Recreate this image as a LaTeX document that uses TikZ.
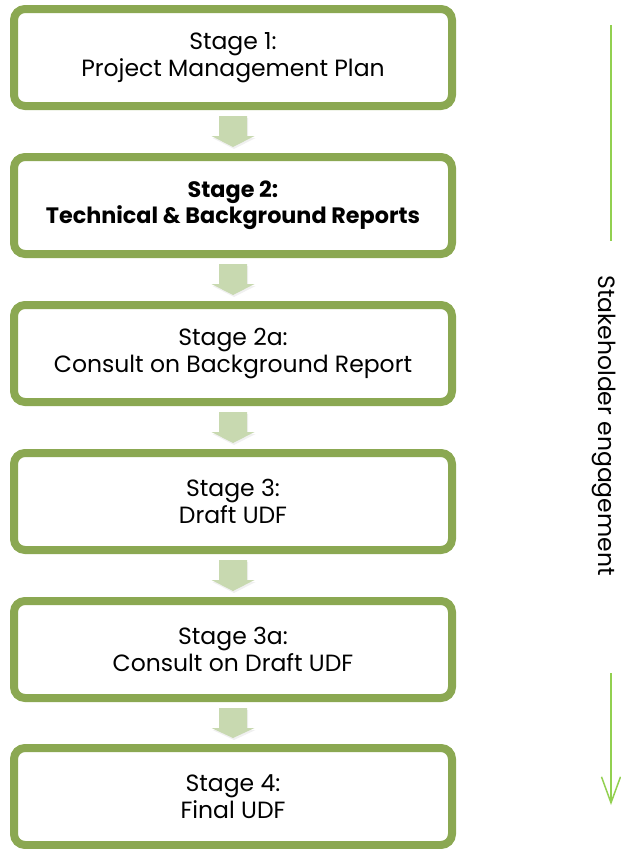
\documentclass[tikz,border=0pt]{standalone}
\usepackage{fontspec}
\setmainfont{Poppins}
\usetikzlibrary{arrows.meta,shadows,calc}
\definecolor{boxgreen}{RGB}{139,168,82}
\definecolor{arrowgreen}{RGB}{200,217,176}
\definecolor{linegreen}{RGB}{146,208,80}
\tikzset{
  stagebox/.style={draw=boxgreen, line width=8pt, fill=white, rounded corners=11pt,
    minimum width=438pt, minimum height=97pt, align=center,
    font=\fontsize{23.5}{27.5}\selectfont, text=black,
    drop shadow={opacity=0.18, shadow xshift=1pt, shadow yshift=-3pt}},
  blockarrow/.style={fill=arrowgreen, draw=none},
  engline/.style={draw=linegreen, line width=1.5pt}
}
\newcommand{\blockarr}[2]{%
  \fill[blockarrow, drop shadow={opacity=0.12, shadow xshift=1pt, shadow yshift=-2pt}]
    ($(#1.south)+(-14,6)$) -- ($(#1.south)+(14,6)$) -- ($(#1.south)+(14,26)$)
    -- ($(#1.south)+(21.5,26)$) -- ($(#2.north)+(0,-6)$) -- ($(#1.south)+(-21.5,26)$)
    -- ($(#1.south)+(-14,26)$) -- cycle;}
\begin{document}
\begin{tikzpicture}[x=1pt,y=-1pt]
\useasboundingbox (0,0) rectangle (621,849);
\node[stagebox] (s1) at (233,57.5) {Stage 1:\\Project Management Plan};
\node[stagebox, font=\fontsize{22.3}{26}\selectfont\bfseries] (s2) at (233,205.5) {Stage 2:\\Technical \& Background Reports};
\node[stagebox] (s3) at (233,353.5) {Stage 2a:\\Consult on Background Report};
\node[stagebox] (s4) at (233,501.5) {Stage 3:\\Draft UDF};
\node[stagebox] (s5) at (233,649.5) {Stage 3a:\\Consult on Draft UDF};
\node[stagebox] (s6) at (233,796.5) {Stage 4:\\Final UDF};
\blockarr{s1}{s2}
\blockarr{s2}{s3}
\blockarr{s3}{s4}
\blockarr{s4}{s5}
\blockarr{s5}{s6}
\coordinate (la) at (611,25);
\coordinate (lb) at (611,241);
\coordinate (lc) at (611,673);
\coordinate (ld) at (611,805);
\draw[engline] (la) -- (lb);
\draw[engline, -{Straight Barb[length=26pt,width=19pt,line width=1.5pt]}] (lc) -- (ld);
\node[rotate=-90, font=\fontsize{23.5}{26}\selectfont, text=black] (eng) at (604,425.5) {Stakeholder engagement};
\end{tikzpicture}
\end{document}
